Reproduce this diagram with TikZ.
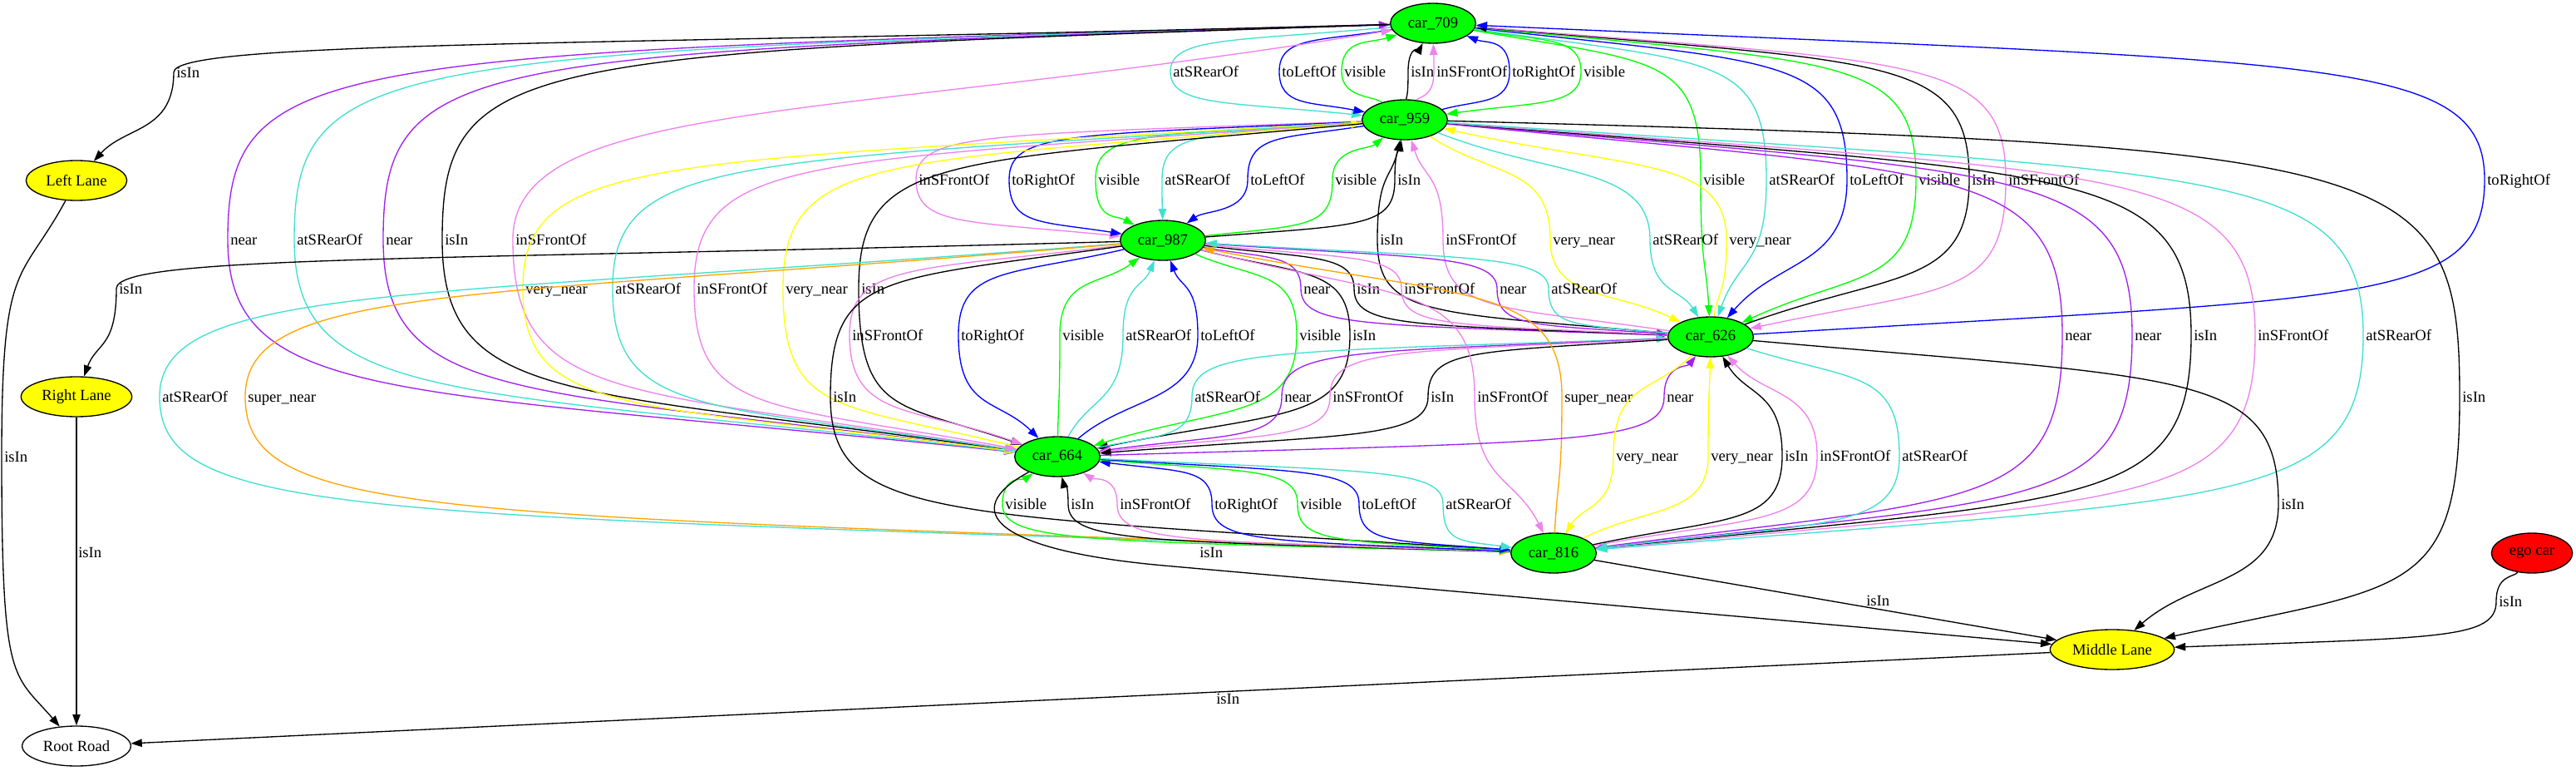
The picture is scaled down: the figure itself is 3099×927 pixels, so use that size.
\documentclass[tikz,border=0pt]{standalone}
\usepackage{fontspec}
\setmainfont{Liberation Serif}
\usetikzlibrary{arrows.meta,shapes.geometric,calc}
\definecolor{gpurple}{HTML}{A020F0}
\definecolor{gturq}{HTML}{40E0D0}
\definecolor{gviolet}{HTML}{EE82EE}
\definecolor{gblue}{HTML}{0000FF}
\definecolor{ggreen}{HTML}{00FF00}
\definecolor{gyellow}{HTML}{FFFF00}
\definecolor{gorange}{HTML}{FFA500}
\definecolor{gred}{HTML}{FF0000}
\tikzset{
  gv/.style={line width=1pt,-{Triangle[length=10pt,width=7pt]}},
  cblack/.style={gv,draw=black},
  cpurple/.style={gv,draw=gpurple},
  cturq/.style={gv,draw=gturq},
  cviolet/.style={gv,draw=gviolet},
  cblue/.style={gv,draw=gblue},
  cgreen/.style={gv,draw=ggreen},
  cyellow/.style={gv,draw=gyellow},
  corange/.style={gv,draw=gorange},
  lbl/.style={inner sep=0pt,anchor=west,text height=10pt,text depth=0pt,font=\fontsize{14}{16}\selectfont},
  gnode/.style={ellipse,draw=black,line width=1pt,inner sep=0pt,minimum height=36pt,font=\fontsize{14}{16}\selectfont},
  carnode/.style={gnode,fill=ggreen,minimum width=77pt},
  lanenode/.style={gnode,fill=gyellow},
}
% #1 style, #2 source, #3 target, #4 label name, #5 x, #6 y, #7 text, #8 uA, #9 uB
\newcommand\GE[9]{%
  \node[lbl] (#4) at (#5,#6) {#7};
  \coordinate (#4m) at ($(#4.west)+(-3,0)$);
  \coordinate (#4a) at ($(#4m|-#2)!#8!(#4m)$);
  \coordinate (#4b) at ($(#4m|-#3)!#9!(#4m)$);
  \pgfmathsetmacro\tA{1-#8/2}%
  \pgfmathsetmacro\tB{1-#9/2}%
  \pgfmathsetmacro\fA{0.55+0.35*(1-#8)}%
  \pgfmathsetmacro\fB{0.55+0.35*(1-#9)}%
  \draw[#1] (#2) .. controls ($(#2)!\tA!(#4a)$) and ($(#4m)!\fA!(#4m|-#2)$) .. (#4m)
     .. controls ($(#4m)!\fB!(#4m|-#3)$) and ($(#3)!\tB!(#4b)$) .. (#3);
}
\begin{document}
\begin{tikzpicture}[x=0.75pt,y=-0.75pt]
\fill[white] (0,0) rectangle (3099,927);
\useasboundingbox (0,0) rectangle (3099,927);
% nodes
\node[carnode] (c709) at (1724,28) {car\_709};
\node[carnode] (c959) at (1690,144) {car\_959};
\node[carnode] (c987) at (1399,289) {car\_987};
\node[carnode] (c626) at (2058,405) {car\_626};
\node[carnode] (c664) at (1272,549) {car\_664};
\node[carnode] (c816) at (1869,665) {car\_816};
\node[lanenode,minimum width=112pt] (ML) at (2541,781) {Middle Lane};
\node[lanenode,minimum width=91pt] (LL) at (92,217) {Left Lane};
\node[lanenode,minimum width=100pt] (RL) at (92,477) {Right Lane};
\node[gnode,fill=white,minimum width=98pt] (RR) at (92,897) {Root Road};
\node[gnode,fill=gred,minimum width=73pt] (ego) at (3046,665) {ego car};
% row 86
\GE{cturq}{c709}{c959}{e1}{1411}{86}{atSRearOf}{0.5}{0.5}
\GE{cblue}{c709}{c959}{e2}{1542}{86}{toLeftOf}{0.5}{0.5}
\GE{cgreen}{c959}{c709}{e3}{1617}{86}{visible}{1}{0.6}
\GE{cblack}{c959}{c709}{e4}{1697}{86}{isIn}{1}{1}
\GE{cviolet}{c959}{c709}{e5}{1728}{86}{inSFrontOf}{1}{1}
\GE{cblue}{c959}{c709}{e6}{1819}{86}{toRightOf}{0.6}{0.6}
\GE{cgreen}{c709}{c959}{e7}{1905}{86}{visible}{0.5}{0.5}
% row 216
\GE{cviolet}{c959}{c987}{e8}{1105}{216}{inSFrontOf}{0.3}{0.4}
\GE{cblue}{c959}{c987}{e9}{1217}{216}{toRightOf}{0.3}{0.4}
\GE{cgreen}{c959}{c987}{e10}{1321}{216}{visible}{0.3}{0.6}
\GE{cturq}{c959}{c987}{e11}{1401}{216}{atSRearOf}{0.3}{1}
\GE{cblue}{c959}{c987}{e12}{1504}{216}{toLeftOf}{0.4}{1}
\GE{cgreen}{c987}{c959}{e13}{1606}{216}{visible}{0.3}{1}
\GE{cblack}{c987}{c959}{e14}{1681}{216}{isIn}{0.3}{1}
\GE{cgreen}{c709}{c626}{e15}{2049}{216}{visible}{0.3}{1}
\GE{cturq}{c709}{c626}{e16}{2128}{216}{atSRearOf}{0.3}{1}
\GE{cblue}{c709}{c626}{e17}{2225}{216}{toLeftOf}{0.3}{1}
\GE{cgreen}{c709}{c626}{e18}{2308}{216}{visible}{0.3}{0.6}
\GE{cblack}{c626}{c709}{e19}{2372}{216}{isIn}{0.6}{0.3}
\GE{cviolet}{c709}{c626}{e20}{2416}{216}{inSFrontOf}{0.3}{0.4}
\GE{cblue}{c626}{c709}{e21}{2992}{216}{toRightOf}{0.3}{0.3}
% row 288
\GE{cpurple}{c709}{c664}{e22}{277}{288}{near}{0.15}{0.4}
\GE{cturq}{c709}{c664}{e23}{357}{288}{atSRearOf}{0.15}{0.4}
\GE{cpurple}{c664}{c709}{e24}{464}{288}{near}{0.4}{0.15}
\GE{cblack}{c709}{c664}{e25}{535}{288}{isIn}{0.15}{0.4}
\GE{cviolet}{c664}{c709}{e26}{620}{288}{inSFrontOf}{0.4}{0.7}
\GE{cblack}{c626}{c959}{e27}{1660}{288}{isIn}{0.3}{1}
\GE{cviolet}{c626}{c959}{e28}{1739}{288}{inSFrontOf}{0.4}{1}
\GE{cyellow}{c959}{c626}{e29}{1868}{288}{very\_near}{0.8}{0.8}
\GE{cturq}{c959}{c626}{e30}{1988}{288}{atSRearOf}{0.8}{1}
\GE{cyellow}{c626}{c959}{e31}{2080}{288}{very\_near}{1}{0.6}
% row 347
\GE{cblack}{c987}{RL}{e32}{143}{347}{isIn}{0.6}{1}
\GE{cyellow}{c959}{c664}{e33}{632}{347}{very\_near}{0.3}{0.4}
\GE{cturq}{c959}{c664}{e34}{740}{347}{atSRearOf}{0.3}{0.4}
\GE{cviolet}{c959}{c664}{e35}{838}{347}{inSFrontOf}{0.3}{0.4}
\GE{cyellow}{c664}{c959}{e36}{945}{347}{very\_near}{0.4}{0.3}
\GE{cblack}{c959}{c664}{e37}{1036}{347}{isIn}{0.3}{0.4}
\GE{cpurple}{c987}{c626}{e38}{1568}{347}{near}{0.5}{0.3}
\GE{cblack}{c987}{c626}{e39}{1632}{347}{isIn}{0.5}{0.3}
\GE{cviolet}{c987}{c626}{e40}{1689}{347}{inSFrontOf}{0.5}{0.3}
\GE{cpurple}{c987}{c626}{e41}{1804}{347}{near}{0.5}{0.3}
\GE{cturq}{c626}{c987}{e42}{1866}{347}{atSRearOf}{0.3}{0.5}
% row 403
\GE{cviolet}{c987}{c664}{e43}{1025}{403}{inSFrontOf}{0.4}{0.6}
\GE{cblue}{c987}{c664}{e44}{1156}{403}{toRightOf}{0.5}{0.8}
\GE{cgreen}{c664}{c987}{e45}{1278}{403}{visible}{1}{0.8}
\GE{cturq}{c664}{c987}{e46}{1354}{403}{atSRearOf}{1}{1}
\GE{cblue}{c664}{c987}{e47}{1444}{403}{toLeftOf}{1}{1}
\GE{cgreen}{c987}{c664}{e48}{1563}{403}{visible}{0.6}{0.6}
\GE{cblack}{c987}{c664}{e49}{1627}{403}{isIn}{0.5}{0.5}
\GE{cpurple}{c959}{c816}{e50}{2484}{403}{near}{0.3}{0.3}
\GE{cpurple}{c959}{c816}{e51}{2568}{403}{near}{0.3}{0.3}
\GE{cblack}{c959}{c816}{e52}{2639}{403}{isIn}{0.3}{0.3}
\GE{cviolet}{c959}{c816}{e53}{2716}{403}{inSFrontOf}{0.3}{0.3}
\GE{cturq}{c959}{c816}{e54}{2846}{403}{atSRearOf}{0.3}{0.3}
% row 477
\GE{cturq}{c987}{c816}{e55}{195}{477}{atSRearOf}{0.5}{0.3}
\GE{corange}{c987}{c816}{e56}{298}{477}{super\_near}{0.5}{0.3}
\GE{cblack}{c987}{c816}{e57}{1002}{477}{isIn}{0.3}{0.3}
\GE{cturq}{c664}{c626}{e58}{1437}{477}{atSRearOf}{0.5}{0.3}
\GE{cpurple}{c626}{c664}{e59}{1545}{477}{near}{0.3}{0.5}
\GE{cviolet}{c626}{c664}{e60}{1603}{477}{inSFrontOf}{0.3}{0.5}
\GE{cblack}{c626}{c664}{e61}{1721}{477}{isIn}{0.3}{0.5}
\GE{cviolet}{c987}{c816}{e62}{1777}{477}{inSFrontOf}{0.5}{1}
\GE{corange}{c816}{c987}{e63}{1882}{477}{super\_near}{1}{0.5}
\GE{cpurple}{c664}{c626}{e64}{2005}{477}{near}{0.3}{1}
\GE{cblack}{c959}{ML}{e65}{2962}{477}{isIn}{0.1}{0.3}
% row 548
\GE{cyellow}{c626}{c816}{e66}{1944}{548}{very\_near}{0.8}{1}
\GE{cyellow}{c816}{c626}{e67}{2058}{548}{very\_near}{0.8}{1}
\GE{cblack}{c816}{c626}{e68}{2147}{548}{isIn}{0.5}{1}
\GE{cviolet}{c816}{c626}{e69}{2189}{548}{inSFrontOf}{0.5}{1}
\GE{cturq}{c626}{c816}{e70}{2288}{548}{atSRearOf}{0.5}{0.4}
% row 606
\GE{cgreen}{c816}{c664}{e71}{1209}{606}{visible}{0.3}{0.8}
\GE{cblack}{c816}{c664}{e72}{1288}{606}{isIn}{0.3}{1}
\GE{cviolet}{c816}{c664}{e73}{1347}{606}{inSFrontOf}{0.3}{0.8}
\GE{cblue}{c816}{c664}{e74}{1461}{606}{toRightOf}{0.3}{0.4}
\GE{cgreen}{c664}{c816}{e75}{1564}{606}{visible}{0.4}{0.3}
\GE{cblue}{c664}{c816}{e76}{1638}{606}{toLeftOf}{0.4}{0.3}
\GE{cturq}{c664}{c816}{e77}{1739}{606}{atSRearOf}{0.4}{0.3}
\GE{cblack}{c626}{ML}{e78}{2744}{606}{isIn}{0.3}{1}
% lanes and road
\GE{cblack}{c709}{LL}{e83}{212}{87}{isIn}{0.7}{1}
\GE{cblack}{LL}{RR}{e84}{5}{549}{isIn}{0.5}{0.3}
\GE{cblack}{ego}{ML}{e81}{3006}{723}{isIn}{1}{0.3}
\node[lbl] (e85) at (94,664) {isIn};
\draw[cblack] (RL) -- (RR);
\node[lbl] (e80) at (2245,722) {isIn};
\draw[cblack] (c816) -- (ML);
\node[lbl] (e82) at (1463,840) {isIn};
\draw[cblack] (ML) -- (RR);
\node[lbl] (e79) at (1443,664) {isIn};
\draw[cblack] (c664) .. controls (1150,615) and (1200,662) .. (1400,680) -- (ML);
\end{tikzpicture}
\end{document}
